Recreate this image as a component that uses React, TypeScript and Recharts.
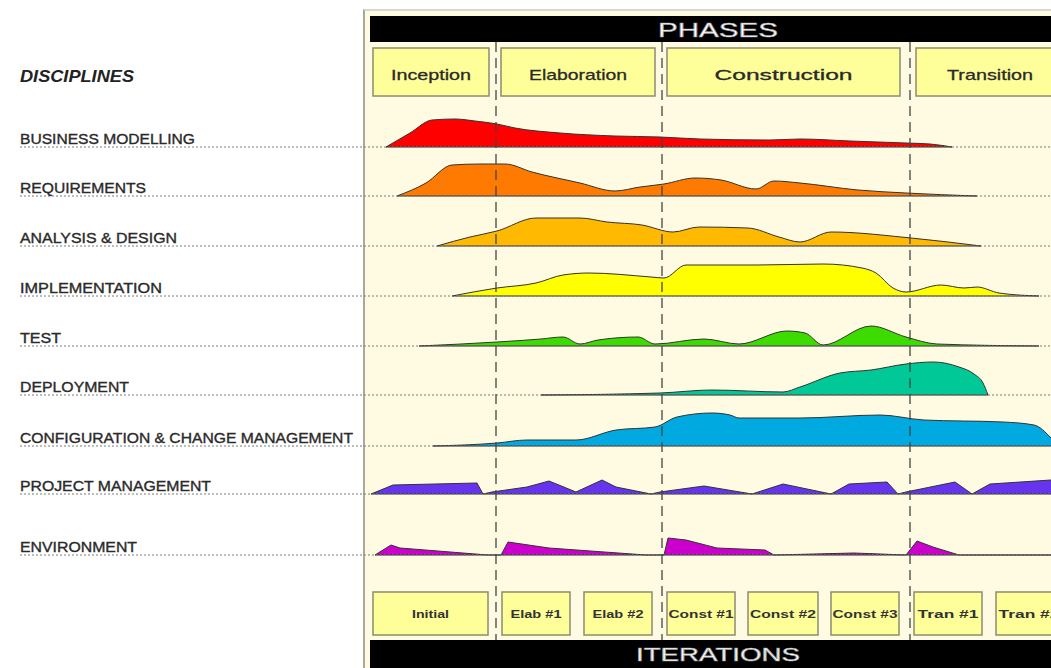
import React from 'react';
import { ComposedChart, Area, XAxis, YAxis, ReferenceLine } from 'recharts';

// time runs left to right (0..105), effort is stacked per discipline row (0..66.8)
const W = 1051;
const H = 668;

const disciplines = [
    'BUSINESS MODELLING',
    'REQUIREMENTS',
    'ANALYSIS & DESIGN',
    'IMPLEMENTATION',
    'TEST',
    'DEPLOYMENT',
    'CONFIGURATION & CHANGE MANAGEMENT',
    'PROJECT MANAGEMENT',
    'ENVIRONMENT',
];
const baselines = [52.1, 47.2, 42.2, 37.2, 32.2, 27.3, 22.2, 17.4, 11.3];
const colors = ['#ff0000', '#ff7a00', '#ffb900', '#ffff00', '#3ddc00', '#00c896', '#00a9e0', '#6633ee', '#cc00cc'];
const curveTypes = ['monotone', 'monotone', 'monotone', 'monotone', 'monotone', 'monotone', 'monotone', 'linear', 'linear'];

// [time, effort]
const businessModelling = [[38.6, 0], [41, 1.4], [43.2, 2.7], [45.5, 2.8], [47.5, 2.6], [49.7, 2.3], [51.5, 1.9], [56, 1.4], [61.5, 1.1], [66, 1.0], [70, 0.8], [77, 0.7], [80, 0.8], [85, 0.6], [90.6, 0.4], [93, 0.3], [95.2, 0]];
const requirements = [[39.7, 0], [42.6, 1.3], [45.2, 3.1], [48, 3.2], [50.5, 3.2], [53.2, 2.4], [58, 1.3], [61.5, 0.5], [64, 0.9], [66.4, 1.2], [69.5, 1.8], [72.1, 1.6], [75.6, 0.7], [77.4, 1.5], [80, 1.3], [85.8, 0.6], [90.6, 0.3], [97.7, 0]];
const analysisDesign = [[43.7, 0], [47, 0.9], [49.7, 1.5], [53.6, 2.8], [58, 2.8], [60.7, 2.4], [64.2, 2.1], [67.3, 1.4], [69.9, 1.9], [74.8, 1.8], [77.9, 0.9], [80, 0.4], [83.1, 1.4], [91.1, 0.8], [98.1, 0]];
const implementation = [[45.2, 0], [49.7, 0.8], [53.6, 1.3], [56.3, 2.1], [58.9, 2.3], [65.1, 1.9], [66.4, 1.8], [68.6, 3.1], [75.7, 3.1], [82.3, 3.2], [86.2, 2.8], [87.6, 2.3], [89.3, 0.8], [90.6, 0.4], [94.1, 1.1], [96.4, 0.8], [97.7, 0.9], [99.9, 0.3], [103.9, 0]];
const test = [[41.9, 0], [49.7, 0.4], [54.1, 0.7], [56.3, 0.9], [58, 0.2], [59.8, 0.6], [63.8, 0.9], [65.5, 0.2], [70.4, 0.7], [73.9, 0.2], [78.7, 1.5], [80.5, 1.3], [82.3, 0.1], [87.1, 2.0], [90.6, 0.9], [93.7, 0.2], [103.9, 0]];
const deployment = [[54.1, 0], [66, 0.2], [71.2, 0.5], [78.3, 0.3], [80, 0.8], [84, 2.2], [87.1, 2.5], [90.6, 3.1], [93.3, 3.3], [95.9, 2.8], [97.4, 2.1], [98.3, 1.2], [98.8, 0]];
const configChange = [[43.3, 0], [49.7, 0.3], [52.7, 0.6], [57.6, 0.6], [61.6, 1.6], [65.5, 1.9], [67.7, 2.9], [71.2, 3.3], [73, 3.1], [73.9, 2.8], [80, 2.8], [88, 3.1], [92.4, 2.6], [100.3, 2.4], [103.4, 2.1], [105.1, 0.8]];
const projectManagement = [[37.1, 0], [39.3, 0.9], [47.7, 1.1], [48.3, 0], [49.2, 0.2], [52.7, 0.7], [54.9, 1.3], [57.6, 0.2], [60.2, 1.4], [61.6, 0.7], [65.1, 0], [66, 0.2], [70.4, 0.8], [75.2, 0], [78.3, 1.0], [83.1, 0], [84.9, 1.0], [88.7, 1.2], [89.8, 0], [90.6, 0.2], [95.5, 1.2], [97.2, 0], [99, 1.0], [105.1, 1.4]];
const environment = [[37.5, 0], [39.1, 1.0], [40, 0.7], [48.8, 0], [50.1, 0], [50.8, 1.3], [54.9, 0.7], [64.6, 0], [66.4, 0], [66.8, 1.7], [68.6, 1.5], [71.7, 0.7], [76.5, 0.5], [77.4, 0], [85.4, 0.2], [90.6, 0], [91.7, 1.4], [93.3, 0.8], [95.9, 0], [105.1, 0]];

const effort = [businessModelling, requirements, analysisDesign, implementation, test, deployment, configChange, projectManagement, environment];

const phaseBoundaries = [49.6, 66.2, 91.0];

const phases = [
    { name: 'Inception', x: 373, w: 116 },
    { name: 'Elaboration', x: 501, w: 154 },
    { name: 'Construction', x: 667, w: 233 },
    { name: 'Transition', x: 916, w: 150 },
];
const phaseTextWidths = [80, 98, 138, 86];

const iterations = [
    { name: 'Initial', x: 373, w: 115 },
    { name: 'Elab #1', x: 502, w: 68 },
    { name: 'Elab #2', x: 584, w: 68 },
    { name: 'Const #1', x: 667, w: 68 },
    { name: 'Const #2', x: 748, w: 70 },
    { name: 'Const #3', x: 831, w: 68 },
    { name: 'Tran #1', x: 914, w: 68 },
    { name: 'Tran #2', x: 996, w: 68 },
];
const iterationTextWidths = [37, 51, 51, 65, 66, 65, 61, 61];

const labelWidths = [175, 126, 157, 142, 41, 109, 333, 191, 117];

const font = '"Liberation Sans", Arial, sans-serif';

function Overlay() {
    return (
        <svg width={W} height={H} style={{ position: 'absolute', left: 0, top: 0, pointerEvents: 'none' }}>
            {/* phases bar */}
            <rect x={370} y={16} width={W - 370} height={26} fill="#000" />
            <text x={718} y={37} textAnchor="middle" fontFamily={font} fontSize={20} fill="#fff" stroke="#999" strokeWidth={0.6}
                textLength={120} lengthAdjust="spacingAndGlyphs">PHASES</text>
            {phases.map((p, i) => (
                <g key={p.name}>
                    <rect x={p.x} y={48} width={p.w} height={48} fill="#ffff99" stroke="#8c8c70" strokeWidth={1.5} />
                    <text x={p.x + (i === 3 ? 74 : p.w / 2)} y={80} textAnchor="middle" fontFamily={font} fontSize={15} fill="#2a2a2a"
                        stroke="#2a2a2a" strokeWidth={0.3} textLength={phaseTextWidths[i]} lengthAdjust="spacingAndGlyphs">{p.name}</text>
                </g>
            ))}

            {/* iterations */}
            {iterations.map((it, i) => (
                <g key={it.name}>
                    <rect x={it.x} y={592} width={it.w} height={43} fill="#ffff99" stroke="#8c8c70" strokeWidth={1.5} />
                    <text x={it.x + (i === 7 ? 33 : it.w / 2)} y={618} textAnchor="middle" fontFamily={font} fontSize={11} fontWeight="bold" fill="#333"
                        textLength={iterationTextWidths[i]} lengthAdjust="spacingAndGlyphs">{it.name}</text>
                </g>
            ))}
            <rect x={370} y={640} width={W - 370} height={28} fill="#000" />
            <text x={718} y={661} textAnchor="middle" fontFamily={font} fontSize={18} fill="#fff" stroke="#999" strokeWidth={0.6}
                textLength={164} lengthAdjust="spacingAndGlyphs">ITERATIONS</text>

            {/* discipline labels */}
            <text x={20} y={82} fontFamily={font} fontSize={17} fontWeight="bold" fontStyle="italic" fill="#222"
                textLength={114} lengthAdjust="spacingAndGlyphs">DISCIPLINES</text>
            {disciplines.map((d, i) => (
                <text key={d} x={20} y={H - baselines[i] * 10 - 3} fontFamily={font} fontSize={14} fill="#2a2a2a"
                    stroke="#2a2a2a" strokeWidth={0.35} textLength={labelWidths[i]} lengthAdjust="spacingAndGlyphs">{d}</text>
            ))}
        </svg>
    );
}

export default function App() {
    return (
        <div style={{ position: 'absolute', left: 0, top: 0, width: W, height: H, background: '#fff', overflow: 'hidden' }}>
            {/* workflow panel */}
            <div style={{ position: 'absolute', left: 363, top: 9, width: W - 363, height: H - 9, background: '#fefbe2', borderLeft: '2px solid #a8a8a0', borderTop: '2px solid #d8d8d0', boxSizing: 'border-box' }} />
            <div style={{ position: 'absolute', left: 0, top: 0 }}>
                <ComposedChart width={W} height={H} margin={{ top: 0, right: 0, bottom: 0, left: 0 }}>
                    <XAxis type="number" dataKey="t" domain={[0, 105.1]} hide allowDataOverflow />
                    <YAxis type="number" domain={[0, 66.8]} hide allowDataOverflow />
                    {baselines.map((b, i) => (
                        <ReferenceLine key={`base-${i}`} segment={[{ x: 2, y: b }, { x: 105.1, y: b }]} stroke="#7a7a7a" strokeDasharray="2 2" strokeWidth={1} ifOverflow="visible" />
                    ))}
                    {effort.map((pts, i) => (
                        <Area
                            key={disciplines[i]}
                            data={pts.map(([t, h]) => ({ t, v: [baselines[i], baselines[i] + h] }))}
                            dataKey="v"
                            type={curveTypes[i] as any}
                            fill={colors[i]}
                            fillOpacity={1}
                            stroke="#333"
                            strokeWidth={1}
                            isAnimationActive={false}
                            dot={false}
                            activeDot={false}
                        />
                    ))}
                    {phaseBoundaries.map((x) => (
                        <ReferenceLine key={`phase-${x}`} segment={[{ x, y: 62.6 }, { x, y: 2.8 }]} stroke="#444" strokeDasharray="10 6" strokeWidth={1.3} ifOverflow="visible" />
                    ))}
                </ComposedChart>
            </div>
            <Overlay />
        </div>
    );
}
